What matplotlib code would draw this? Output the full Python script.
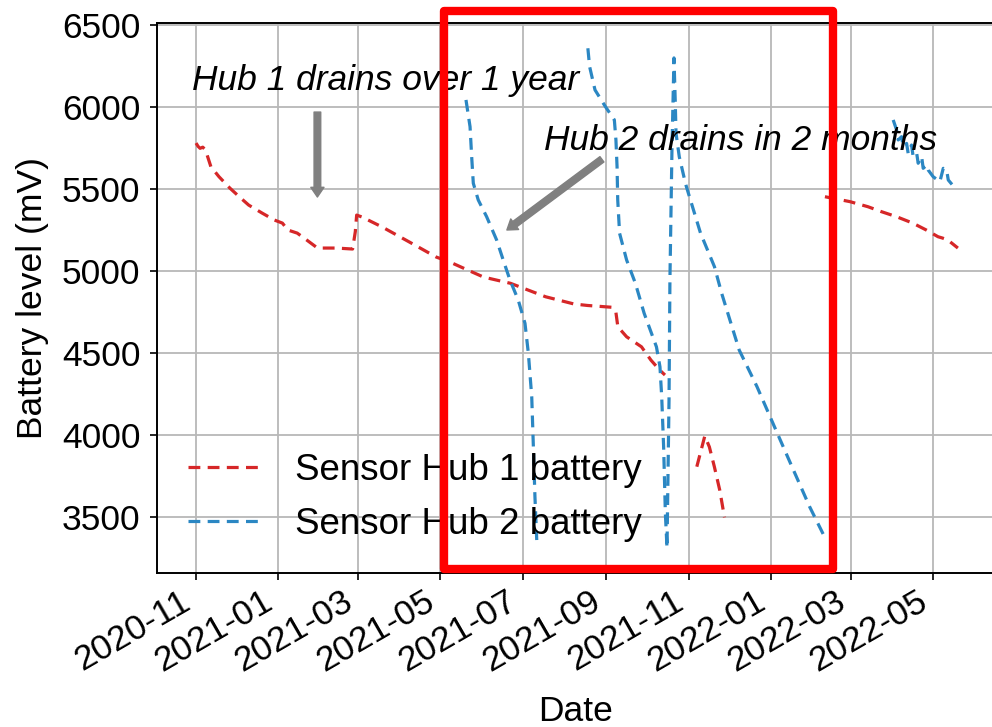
import numpy as np
import pandas as pd
import matplotlib
matplotlib.use("Agg")
import matplotlib.pyplot as plt
import matplotlib.dates as mdates
from matplotlib.patches import Rectangle

plt.rcParams['font.family'] = ['Liberation Sans', 'DejaVu Sans']

# Sensor Hub 1 battery readings (NaN marks a gap in the logging)
hub1_dates = [
    "2020-11-01 00:00", "2020-11-02 12:00", "2020-11-04 00:00", "2020-11-06 00:00",
    "2020-11-08 00:00", "2020-11-12 00:00", "2020-11-18 00:00", "2020-11-26 00:00",
    "2020-12-03 00:00", "2020-12-10 00:00", "2020-12-20 00:00", "2020-12-29 00:00",
    "2021-01-04 00:00", "2021-01-08 00:00", "2021-01-15 00:00", "2021-01-22 00:00",
    "2021-01-30 00:00", "2021-02-13 00:00", "2021-02-25 00:00", "2021-02-27 00:00",
    "2021-02-28 00:00", "2021-03-04 00:00", "2021-03-19 00:00", "2021-04-08 00:00",
    "2021-04-28 00:00", "2021-05-08 00:00", "2021-05-18 00:00", "2021-06-02 00:00",
    "2021-06-22 00:00", "2021-07-05 00:00", "2021-07-18 00:00", "2021-08-08 00:00",
    "2021-08-18 00:00", "2021-09-05 00:00", "2021-09-08 00:00", "2021-09-09 12:00",
    "2021-09-16 00:00", "2021-09-27 00:00", "2021-10-04 00:00", "2021-10-10 12:00",
    "2021-10-14 10:00",
    "2021-10-25 00:00",
    "2021-11-07 00:00", "2021-11-12 22:00", "2021-11-16 07:00", "2021-11-20 00:00",
    "2021-11-24 00:00", "2021-11-27 12:00",
    "2022-01-15 00:00",
    "2022-02-09 22:00", "2022-02-16 00:00", "2022-02-28 10:00", "2022-03-13 19:00",
    "2022-03-23 17:00", "2022-04-04 00:00", "2022-04-16 00:00", "2022-04-26 00:00",
    "2022-05-04 17:00", "2022-05-08 00:00", "2022-05-12 00:00", "2022-05-19 10:00",
]
hub1_mv = [
    5780, 5760, 5748, 5755,
    5738, 5636, 5575, 5506,
    5453, 5402, 5353, 5311,
    5292, 5250, 5231, 5189,
    5140, 5140, 5134, 5240,
    5341, 5329, 5268, 5177,
    5085, 5055, 5018, 4963,
    4925, 4884, 4843, 4799,
    4790, 4779, 4752, 4660,
    4599, 4538, 4457, 4396,
    4366,
    np.nan,
    3807, 3994, 3928, 3807,
    3664, 3498,
    np.nan,
    5453, 5443, 5423, 5392,
    5362, 5331, 5292, 5250,
    5209, 5201, 5189, 5140,
]

# Sensor Hub 2 battery readings (NaN marks a gap in the logging)
hub2_dates = [
    "2021-05-20 00:00", "2021-05-23 00:00", "2021-05-24 05:00", "2021-05-25 10:00",
    "2021-05-29 02:00", "2021-06-04 07:00", "2021-06-11 17:00", "2021-06-16 14:00",
    "2021-06-21 14:00", "2021-06-27 17:00", "2021-07-02 17:00", "2021-07-05 05:00",
    "2021-07-07 17:00", "2021-07-08 22:00", "2021-07-10 02:00", "2021-07-11 10:00",
    "2021-08-01 00:00",
    "2021-08-18 07:00", "2021-08-19 14:00", "2021-08-23 14:00", "2021-08-31 07:00",
    "2021-09-06 22:00", "2021-09-08 02:00", "2021-09-08 22:00", "2021-09-09 10:00",
    "2021-09-10 19:00", "2021-09-16 00:00", "2021-09-22 12:00", "2021-09-29 00:00",
    "2021-10-08 02:00", "2021-10-10 17:00", "2021-10-12 00:00", "2021-10-13 10:00",
    "2021-10-14 17:00", "2021-10-15 22:00", "2021-10-17 10:00", "2021-10-18 02:00",
    "2021-10-19 14:00", "2021-10-21 02:00", "2021-10-22 00:00", "2021-10-22 14:00",
    "2021-10-25 00:00", "2021-10-29 00:00", "2021-10-30 07:00", "2021-11-09 19:00",
    "2021-11-20 02:00", "2021-11-25 10:00", "2021-12-08 10:00", "2021-12-21 14:00",
    "2022-01-03 12:00", "2022-01-16 12:00", "2022-01-29 14:00", "2022-02-09 00:00",
    "2022-03-10 00:00",
    "2022-04-01 12:00", "2022-04-04 00:00", "2022-04-05 05:00", "2022-04-07 17:00",
    "2022-04-08 22:00", "2022-04-11 10:00", "2022-04-12 14:00", "2022-04-15 02:00",
    "2022-04-16 07:00", "2022-04-18 22:00", "2022-04-20 00:00", "2022-04-22 14:00",
    "2022-04-23 17:00", "2022-04-26 07:00", "2022-04-27 10:00", "2022-05-01 02:00",
    "2022-05-06 02:00", "2022-05-08 14:00", "2022-05-11 02:00", "2022-05-12 07:00",
    "2022-05-18 12:00",
]
hub2_mv = [
    6043, 5880, 5697, 5535,
    5433, 5331, 5189, 5067,
    4945, 4823, 4681, 4498,
    4233, 3928, 3624, 3360,
    np.nan,
    6358, 6246, 6104, 6002,
    5921, 5799, 5636, 5433,
    5230, 5067, 4925, 4742,
    4538, 4416, 4233, 3928,
    3522, 3311, 4213, 4945,
    5738, 6299, 6043, 5841,
    5697, 5555, 5514, 5230,
    5026, 4864, 4518, 4295,
    4051, 3807, 3563, 3390,
    np.nan,
    5921, 5860, 5799, 5819,
    5758, 5778, 5717, 5768,
    5697, 5717, 5657, 5697,
    5626, 5646, 5616, 5575,
    5545, 5626, 5616, 5555,
    5494,
]

series_labels = ["Sensor Hub 1 battery", "Sensor Hub 2 battery"]
series_colors = ["#d62728", "#2b87c3"]

FS = 25.5
fig = plt.figure(figsize=(9.92, 7.27), dpi=100)
ax = fig.add_axes([157 / 992, 1 - 573 / 727, (995 - 157) / 992, (573 - 23) / 727])

dash = (0, (3.7, 2.3))
for dates, mv, lab, col in zip([hub1_dates, hub2_dates], [hub1_mv, hub2_mv],
                               series_labels, series_colors):
    ax.plot(pd.to_datetime(dates), np.array(mv, dtype=float), linestyle=dash,
            lw=2.3, color=col, label=lab)

ax.set_xlim(pd.Timestamp("2020-10-03 02:00"), pd.Timestamp("2022-06-15 22:00"))
ax.set_ylim(3159, 6512)
ax.set_yticks([3500, 4000, 4500, 5000, 5500, 6000, 6500])

ax.xaxis.set_major_locator(mdates.MonthLocator(bymonth=[1, 3, 5, 7, 9, 11]))
ax.xaxis.set_major_formatter(mdates.DateFormatter("%Y-%m"))
for lbl in ax.get_xticklabels():
    lbl.set_rotation(30)
    lbl.set_ha("right")

ax.tick_params(labelsize=FS, width=1.2, length=5)
ax.tick_params(axis="y", pad=7)
ax.grid(True, color="#b8b8b8", lw=1.3)
for sp in ax.spines.values():
    sp.set_linewidth(1.4)

ax.set_xlabel("Date", fontsize=FS, labelpad=12)
ax.set_ylabel("Battery level (mV)", fontsize=FS, labelpad=9)

# annotations
ax.text(pd.Timestamp("2020-10-29"), 6104, "Hub 1 drains over 1 year",
        fontsize=FS, style="italic", va="baseline", ha="left")
ax.annotate("", xy=(pd.Timestamp("2021-01-29 22:00"), 5451),
            xytext=(pd.Timestamp("2021-01-29 22:00"), 5969),
            arrowprops=dict(facecolor="gray", edgecolor="gray", width=4.8,
                            headwidth=9.5, headlength=7, shrink=0))
ax.text(pd.Timestamp("2021-07-16 19:00"), 5738, "Hub 2 drains in 2 months",
        fontsize=FS, style="italic", va="baseline", ha="left")
ax.annotate("", xy=(pd.Timestamp("2021-06-19 07:00"), 5250),
            xytext=(pd.Timestamp("2021-08-28 17:00"), 5681),
            arrowprops=dict(facecolor="gray", edgecolor="gray", width=4.8,
                            headwidth=9.5, headlength=7, shrink=0))

ax.legend(loc="lower left", frameon=False, fontsize=26.5, handletextpad=0.9,
          borderaxespad=0.45)

# highlight box around the Hub 2 drain period
fig.patches.append(Rectangle((444 / 992, 1 - 569 / 727), (833 - 444) / 992, (569 - 11) / 727,
                             transform=fig.transFigure, fill=False, edgecolor="#ff0000",
                             lw=6, joinstyle="round", zorder=10))

fig.savefig("out.png", dpi=100)
